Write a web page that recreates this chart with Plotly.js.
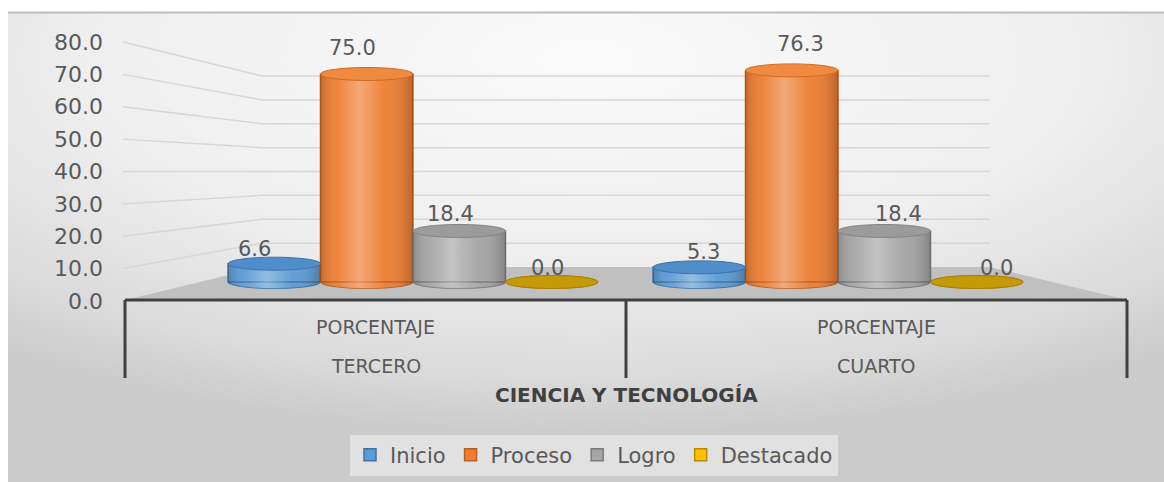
<!DOCTYPE html>
<html>
<head>
<meta charset="utf-8">
<script src="https://cdn.plot.ly/plotly-3.0.1.min.js"></script>
<style>html,body{margin:0;padding:0;background:#fff;}#chart{width:1164px;height:482px;}</style>
</head>
<body>
<div id="chart"></div>
<script>
// ---------- data ----------
const categories = ['TERCERO', 'CUARTO'];
const subLabels = ['PORCENTAJE', 'PORCENTAJE'];
const axisTitle = 'CIENCIA Y TECNOLOGÍA';
const seriesNames = ['Inicio', 'Proceso', 'Logro', 'Destacado'];
const inicio = [6.6, 5.3];
const proceso = [75.0, 76.3];
const logro = [18.4, 18.4];
const destacado = [0.0, 0.0];
const yTickValues = [0, 10, 20, 30, 40, 50, 60, 70, 80];

// ---------- styles / layout constants ----------
const W = 1164, H = 482;
const seriesValues = [inicio, proceso, logro, destacado];
const baseColors = ['#5b9bd5', '#ed7d31', '#a5a5a5', '#ffc000'];
const edgeColors = ['#41719c', '#b85f22', '#7a7a7a', '#b88a00'];
const topColors = ['#4f8dcb', '#ef8a3e', '#9b9b9b', '#c39a08'];
const topEdge = ['#3f73a8', '#d06a22', '#858585', '#a88000'];

const GROUP_PX0 = 413, GROUP_STEP = 425;
const xRange = [-GROUP_PX0 / GROUP_STEP, (W - GROUP_PX0) / GROUP_STEP];
const BAR_ZERO_PX = 282, BAR_SCALE = 208 / 75;
const yRange = [(BAR_ZERO_PX - H) / BAR_SCALE, BAR_ZERO_PX / BAR_SCALE];
const FRONT_ZERO_PX = 301, FRONT_SCALE = 3.2375;
const y2Range = [(FRONT_ZERO_PX - H) / FRONT_SCALE, FRONT_ZERO_PX / FRONT_SCALE];
const BACK_ZERO_PX = 267, BACK_SCALE = 2.3875;
const BARGAP = 0.1294;
const pitch = (1 - BARGAP) / seriesNames.length;
const ellH = 6.5 / BAR_SCALE;

const font = 'DejaVu Sans, Verdana, sans-serif';
const P = (px, py) => (px / W).toFixed(5) + ',' + (1 - py / H).toFixed(5);
const px = v => v / W, py = v => 1 - v / H;

// ---------- background image (gradient) ----------
const bgSvg = "<svg xmlns='http://www.w3.org/2000/svg' width='1156' height='470'>" +
  "<defs><radialGradient id='g' cx='0.5' cy='0.1' r='0.8' fx='0.5' fy='0.1'>" +
  "<stop offset='0' stop-color='#fafafa'/><stop offset='0.55' stop-color='#eeeeee'/>" +
  "<stop offset='0.85' stop-color='#dadada'/><stop offset='1' stop-color='#cbcbcb'/></radialGradient></defs>" +
  "<rect width='1156' height='470' fill='url(#g)'/></svg>";

const shapes = [];
// top border of chart
shapes.push({type: 'line', xref: 'paper', yref: 'paper', x0: px(8), x1: 1, y0: py(12.5), y1: py(12.5),
  line: {color: '#bdbdbd', width: 2}, layer: 'below'});
// perspective gridlines (left wall + back wall)
yTickValues.forEach(v => {
  if (v === 0) return;
  const fy = FRONT_ZERO_PX - FRONT_SCALE * v;
  const by = BACK_ZERO_PX - BACK_SCALE * v;
  shapes.push({type: 'path', xref: 'paper', yref: 'paper', layer: 'below',
    path: 'M' + P(123, fy) + 'L' + P(262, by) + 'L' + P(990, by),
    line: {color: '#d6d6d6', width: 1.5}});
});
// floor
shapes.push({type: 'path', xref: 'paper', yref: 'paper', layer: 'below',
  path: 'M' + P(125, 300) + 'L' + P(262, 267) + 'L' + P(990, 267) + 'L' + P(1127, 300) + 'Z',
  fillcolor: '#c0c0c0', line: {width: 0}});
// category axis box lines
shapes.push({type: 'line', xref: 'paper', yref: 'paper', x0: px(125), x1: px(1127), y0: py(300), y1: py(300),
  line: {color: '#404040', width: 3}, layer: 'below'});
[125, 626, 1127].forEach(x => shapes.push({type: 'line', xref: 'paper', yref: 'paper',
  x0: px(x), x1: px(x), y0: py(300), y1: py(378), line: {color: '#404040', width: 3}, layer: 'below'}));

const traces = [];
const annotations = [];

seriesNames.forEach((name, i) => {
  const vals = seriesValues[i];
  const off = (i - (seriesNames.length - 1) / 2) * pitch;
  traces.push({
    type: 'bar', name: name, x: categories.map((c, k) => k), y: vals,
    marker: {color: baseColors[i], line: {color: edgeColors[i], width: 1.5}},
    hoverinfo: 'skip'
  });
  vals.forEach((v, k) => {
    const cx = k + off;
    // bottom ellipse
    shapes.push({type: 'circle', xref: 'x', yref: 'y', layer: 'below',
      x0: cx - pitch / 2, x1: cx + pitch / 2, y0: -ellH, y1: ellH,
      fillcolor: baseColors[i], line: {color: edgeColors[i], width: 1}});
    // shading overlay for cylinder body
    if (v > 0) {
      const xs = [], ys = [];
      xs.push(cx - pitch / 2); ys.push(v);
      xs.push(cx + pitch / 2); ys.push(v);
      for (let t = 0; t <= 40; t++) {
        const a = Math.PI * t / 40;
        xs.push(cx + Math.cos(a) * pitch / 2);
        ys.push(-Math.sin(a) * ellH);
      }
      xs.push(cx - pitch / 2); ys.push(v);
      traces.push({type: 'scatter', x: xs, y: ys, mode: 'lines', fill: 'toself',
        line: {width: 0}, showlegend: false, hoverinfo: 'skip',
        fillgradient: {type: 'horizontal', colorscale: [
          [0, 'rgba(0,0,0,0.16)'], [0.18, 'rgba(255,255,255,0.06)'], [0.42, 'rgba(255,255,255,0.34)'],
          [0.7, 'rgba(255,255,255,0.04)'], [1, 'rgba(0,0,0,0.2)']]}});
    }
    // top ellipse
    shapes.push({type: 'circle', xref: 'x', yref: 'y', layer: 'above',
      x0: cx - pitch / 2, x1: cx + pitch / 2, y0: v - ellH, y1: v + ellH,
      fillcolor: topColors[i], line: {color: topEdge[i], width: 1}});
    // data label
    const centerPx = GROUP_PX0 + GROUP_STEP * cx;
    annotations.push({xref: 'x', yref: 'y', x: cx, y: v, text: v.toFixed(1), showarrow: false,
      yanchor: 'middle', xanchor: 'center', yshift: 14 + 0.16 * v, xshift: 0.055 * (centerPx - 626),
      font: {family: font, size: 21, color: '#595959'}});
  });
});

// dummy trace to carry the front value axis
traces.push({type: 'scatter', x: [0], y: [0], yaxis: 'y2', mode: 'markers',
  marker: {opacity: 0}, showlegend: false, hoverinfo: 'skip'});

// category labels & axis title
const catCentersPx = [375.5, 876.5];
categories.forEach((c, k) => {
  annotations.push({xref: 'paper', yref: 'paper', x: px(catCentersPx[k]), y: py(327), text: subLabels[k],
    showarrow: false, xanchor: 'center', yanchor: 'middle', font: {family: font, size: 19, color: '#595959'}});
  annotations.push({xref: 'paper', yref: 'paper', x: px(catCentersPx[k]), y: py(366), text: c,
    showarrow: false, xanchor: 'center', yanchor: 'middle', font: {family: font, size: 19, color: '#595959'}});
});
annotations.push({xref: 'paper', yref: 'paper', x: px(626), y: py(395), text: '<b>' + axisTitle + '</b>',
  showarrow: false, xanchor: 'center', yanchor: 'middle', font: {family: font, size: 20, color: '#404040'}});

const layout = {
  width: W, height: H, autosize: false,
  margin: {l: 0, r: 0, t: 0, b: 0, pad: 0},
  paper_bgcolor: '#ffffff', plot_bgcolor: 'rgba(0,0,0,0)',
  barmode: 'group', bargap: BARGAP, bargroupgap: 0,
  xaxis: {range: xRange, showticklabels: false, showgrid: false, zeroline: false, showline: false, fixedrange: true},
  yaxis: {range: yRange, showticklabels: false, showgrid: false, zeroline: false, showline: false, fixedrange: true},
  yaxis2: {range: y2Range, overlaying: 'y', anchor: 'free', position: px(103), side: 'left',
    tickvals: yTickValues, ticktext: yTickValues.map(v => v.toFixed(1)), ticks: '',
    showgrid: false, zeroline: false, showline: false, fixedrange: true,
    tickfont: {family: font, size: 22, color: '#595959'}},
  showlegend: true,
  legend: {orientation: 'h', x: px(594), xanchor: 'center', y: py(455), yanchor: 'middle',
    bgcolor: 'rgba(240,240,240,0.6)', borderwidth: 0, itemwidth: 30,
    font: {family: font, size: 21, color: '#595959'}, traceorder: 'normal', itemclick: false},
  images: [{source: 'data:image/svg+xml;charset=utf-8,' + encodeURIComponent(bgSvg),
    xref: 'paper', yref: 'paper', x: px(8), y: py(13), sizex: 1156 / W, sizey: 469 / H,
    xanchor: 'left', yanchor: 'top', sizing: 'stretch', layer: 'below'}],
  shapes: shapes,
  annotations: annotations
};

Plotly.newPlot('chart', traces, layout, {displayModeBar: false, staticPlot: true});
</script>
</body>
</html>
